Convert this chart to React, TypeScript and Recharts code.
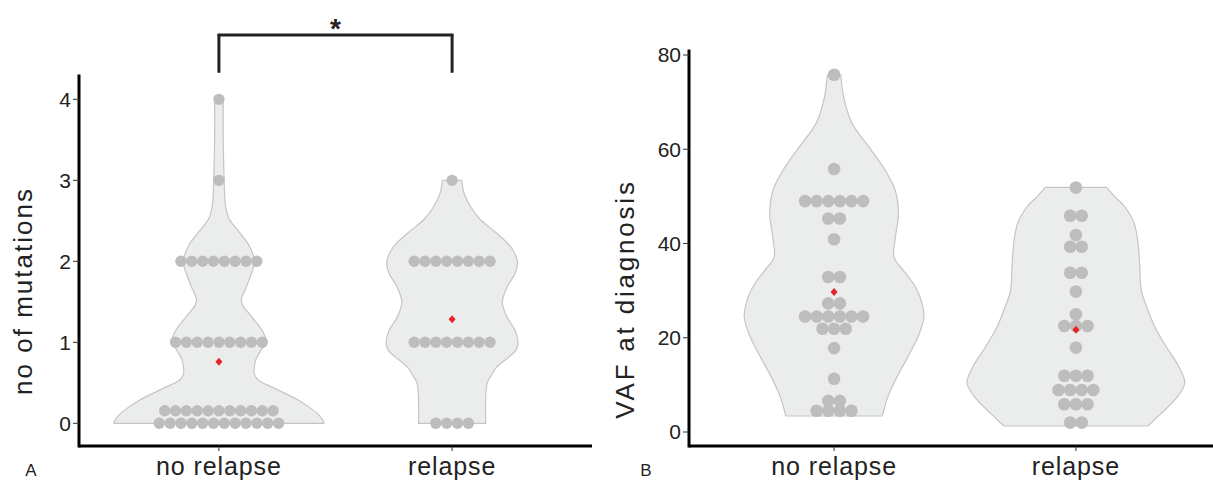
import React from 'react';
import { ComposedChart, Scatter, XAxis, YAxis, ReferenceLine, ReferenceDot } from 'recharts';

// ---------- categories ----------
const GROUPS = ['no relapse', 'relapse'];

// ---------- Panel A: number of mutations ----------
const MUT_TICKS = [0, 1, 2, 3, 4];
// dot rows as drawn: [value, number of dots in the row]
const MUT_ROWS_NO_RELAPSE: [number, number][] = [[0, 12], [0.155, 11], [1, 9], [2, 8], [3, 1], [4, 1]];
const MUT_ROWS_RELAPSE: [number, number][] = [[0, 4], [1, 8], [2, 8], [3, 1]];
// violin density profiles: [value, relative half width]
const MUT_VIOLIN_NO_RELAPSE: [number, number][] = [
  [0, 1.0], [0.04, 0.99], [0.12, 0.94], [0.2, 0.86], [0.29, 0.75], [0.37, 0.63], [0.45, 0.5],
  [0.53, 0.38], [0.6, 0.34], [0.66, 0.335], [0.78, 0.35], [0.9, 0.4], [1.0, 0.45], [1.1, 0.43],
  [1.19, 0.39], [1.35, 0.29], [1.45, 0.23], [1.54, 0.215], [1.68, 0.26], [1.85, 0.31], [2.0, 0.34],
  [2.19, 0.29], [2.35, 0.2], [2.52, 0.1], [2.68, 0.064], [2.84, 0.054], [3.0, 0.05], [3.5, 0.041], [4.0, 0.041],
];
const MUT_VIOLIN_RELAPSE: [number, number][] = [
  [0, 0.32], [0.3, 0.32], [0.49, 0.333], [0.6, 0.378], [0.7, 0.43], [0.82, 0.543], [0.9, 0.607],
  [1.0, 0.629], [1.15, 0.6], [1.32, 0.52], [1.5, 0.479], [1.69, 0.527], [1.85, 0.6], [2.0, 0.622],
  [2.18, 0.559], [2.35, 0.422], [2.51, 0.273], [2.67, 0.178], [2.84, 0.114], [3.0, 0.092],
];
const MUT_MEANS = [0.76, 1.285];

// ---------- Panel B: VAF at diagnosis ----------
const VAF_TICKS = [0, 20, 40, 60, 80];
const VAF_ROWS_NO_RELAPSE: [number, number][] = [
  [75.8, 1], [55.8, 1], [49.0, 6], [45.3, 2], [40.9, 1], [32.9, 2], [27.3, 2], [24.5, 6],
  [21.9, 3], [17.8, 1], [11.3, 1], [6.6, 2], [4.5, 4],
];
const VAF_ROWS_RELAPSE: [number, number][] = [
  [51.9, 1], [45.9, 2], [41.8, 1], [39.3, 2], [33.8, 2], [29.8, 1], [25.0, 1], [22.5, 3],
  [17.9, 1], [11.95, 3], [8.9, 4], [5.9, 3], [2.0, 2],
];
const VAF_VIOLIN_NO_RELAPSE: [number, number][] = [
  [3.4, 0.443], [7.5, 0.495], [11.7, 0.578], [16.0, 0.679], [20.2, 0.771], [24.5, 0.826],
  [28.7, 0.789], [31.6, 0.725], [34.4, 0.633], [37.2, 0.55], [41.5, 0.564], [46.4, 0.592],
  [51.4, 0.56], [55.6, 0.468], [59.9, 0.339], [64.1, 0.202], [66.9, 0.138], [71.2, 0.087], [75.8, 0.061],
];
const VAF_VIOLIN_RELAPSE: [number, number][] = [
  [1.27, 0.663], [4.0, 0.786], [6.8, 0.908], [10.3, 1.0], [13.9, 0.945], [18.1, 0.83],
  [22.3, 0.725], [26.6, 0.65], [30.1, 0.6], [35.1, 0.587], [40.0, 0.572], [44.3, 0.535],
  [47.8, 0.45], [49.9, 0.358], [51.9, 0.281],
];
const VAF_MEANS = [29.7, 21.7];

// ---------- helpers ----------
const FONT = '"Liberation Sans", Arial, Helvetica, sans-serif';
const TEXT = '#222';
const MAX_HALF = 0.45;

function violinData(profile: [number, number][], center: number) {
  const right = profile.map(([v, w]) => ({ x: center + w * MAX_HALF, y: v }));
  const left = profile.slice().reverse().map(([v, w]) => ({ x: center - w * MAX_HALF, y: v }));
  return [...right, ...left];
}

function dotData(rows: [number, number][], center: number, spacing: number) {
  const out: { x: number; y: number }[] = [];
  rows.forEach(([v, n]) => {
    for (let i = 0; i < n; i++) out.push({ x: center + (i - (n - 1) / 2) * spacing, y: v });
  });
  return out;
}

function smooth(pts: { x: number; y: number }[]) {
  let d = '';
  for (let i = 0; i < pts.length - 1; i++) {
    const p0 = pts[i - 1] || pts[i];
    const p1 = pts[i];
    const p2 = pts[i + 1];
    const p3 = pts[i + 2] || p2;
    const c1x = p1.x + (p2.x - p0.x) / 6;
    const c1y = p1.y + (p2.y - p0.y) / 6;
    const c2x = p2.x - (p3.x - p1.x) / 6;
    const c2y = p2.y - (p3.y - p1.y) / 6;
    d += ` C${c1x},${c1y} ${c2x},${c2y} ${p2.x},${p2.y}`;
  }
  return d;
}

const ViolinOutline = (props: any) => {
  const pts = (props.points || []).filter((p: any) => p && p.x != null && p.y != null);
  if (pts.length < 4) return <g />;
  const n = pts.length / 2;
  const right = pts.slice(0, n);
  const left = pts.slice(n);
  const d = `M${right[0].x},${right[0].y}` + smooth(right) + ` L${left[0].x},${left[0].y}` + smooth(left) + ' Z';
  return <path d={d} fill="#ebecec" stroke="#c5c5c5" strokeWidth={1.2} />;
};

const Blank = () => <g />;
const dotShape = (r: number) => (p: any) => <circle cx={p.cx} cy={p.cy} r={r} fill="#bdbdbd" />;
const MeanShape = (p: any) => (
  <polygon
    points={`${p.cx},${p.cy - 4} ${p.cx + 3.5},${p.cy} ${p.cx},${p.cy + 4} ${p.cx - 3.5},${p.cy}`}
    fill="#e8242a"
  />
);

const yTitle = (text: string, bx: number, cy: number, ls: number) => ({
  content: () => (
    <text
      x={bx}
      y={cy}
      transform={`rotate(-90 ${bx} ${cy})`}
      textAnchor="middle"
      fontSize={26}
      fill={TEXT}
      fontFamily={FONT}
      letterSpacing={ls}
    >
      {text}
    </text>
  ),
});

type PanelProps = {
  width: number;
  height: number;
  axisWidth: number;
  top: number;
  rightMargin: number;
  yDomain: [number, number];
  yTicks: number[];
  violins: [number, number][][];
  rows: [number, number][][];
  means: number[];
  spacing: number;
  r: number;
  title: string;
  titleX: number;
  titleY: number;
  titleLS: number;
  children?: React.ReactNode;
};

function Panel(p: PanelProps) {
  return (
    <ComposedChart
      width={p.width}
      height={p.height}
      margin={{ top: p.top, right: p.rightMargin, bottom: 0, left: 0 }}
      style={{ fontFamily: FONT }}
    >
      <XAxis
        type="number"
        dataKey="x"
        domain={[0.4, 2.6]}
        allowDataOverflow
        ticks={[1, 2]}
        tickFormatter={(v: number) => GROUPS[v - 1]}
        height={35}
        axisLine={{ stroke: '#000', strokeWidth: 3 }}
        tickLine={{ stroke: '#333', strokeWidth: 1 }}
        tickSize={5}
        tickMargin={6}
        tick={{ fontSize: 25, fill: TEXT, fontFamily: FONT, letterSpacing: 0.9 }}
        interval={0}
      />
      <YAxis
        type="number"
        dataKey="y"
        domain={p.yDomain}
        allowDataOverflow
        ticks={p.yTicks}
        width={p.axisWidth}
        axisLine={{ stroke: '#000', strokeWidth: 3, strokeLinecap: 'square' }}
        tickLine={{ stroke: '#333', strokeWidth: 1 }}
        tickSize={6}
        tickMargin={2}
        tick={{ fontSize: 21, fill: TEXT, fontFamily: FONT }}
        interval={0}
        label={yTitle(p.title, p.titleX, p.titleY, p.titleLS)}
      />
      {p.violins.map((v, i) => (
        <Scatter
          key={'v' + i}
          data={violinData(v, i + 1)}
          line={ViolinOutline}
          shape={Blank}
          isAnimationActive={false}
        />
      ))}
      {p.rows.map((rows, i) => (
        <Scatter
          key={'d' + i}
          data={dotData(rows, i + 1, p.spacing)}
          shape={dotShape(p.r)}
          isAnimationActive={false}
        />
      ))}
      <Scatter
        data={p.means.map((m, i) => ({ x: i + 1, y: m }))}
        shape={MeanShape}
        isAnimationActive={false}
      />
      {p.children}
    </ComposedChart>
  );
}

// significance bracket (panel A), in data units of panel A
const BRACKET_TOP = 4.794;
const BRACKET_LEG = 4.328;
const STAR_Y = 4.958;

export default function App() {
  return (
    <div
      style={{
        position: 'absolute',
        left: 0,
        top: 0,
        width: 1213,
        height: 481,
        overflow: 'hidden',
        background: '#fff',
        fontFamily: FONT,
      }}
    >
      <div style={{ position: 'absolute', left: 0, top: 0 }}>
        <Panel
          width={600}
          height={481}
          axisWidth={79}
          top={76}
          rightMargin={8}
          yDomain={[-0.28, 4.288]}
          yTicks={MUT_TICKS}
          violins={[MUT_VIOLIN_NO_RELAPSE, MUT_VIOLIN_RELAPSE]}
          rows={[MUT_ROWS_NO_RELAPSE, MUT_ROWS_RELAPSE]}
          means={MUT_MEANS}
          spacing={0.0465}
          r={5.7}
          title="no of mutations"
          titleX={32}
          titleY={291}
          titleLS={2}
        >
          <ReferenceLine
            segment={[{ x: 1, y: BRACKET_TOP }, { x: 2, y: BRACKET_TOP }]}
            ifOverflow="visible"
            stroke="#222"
            strokeWidth={3}
            strokeLinecap="square"
          />
          <ReferenceLine
            segment={[{ x: 1, y: BRACKET_LEG }, { x: 1, y: BRACKET_TOP }]}
            ifOverflow="visible"
            stroke="#222"
            strokeWidth={3}
          />
          <ReferenceLine
            segment={[{ x: 2, y: BRACKET_LEG }, { x: 2, y: BRACKET_TOP }]}
            ifOverflow="visible"
            stroke="#222"
            strokeWidth={3}
          />
          <ReferenceDot
            x={1.5}
            y={STAR_Y}
            r={0}
            ifOverflow="visible"
            shape={(s: any) => (
              <text x={s.cx} y={s.cy + 16} textAnchor="middle" fontSize={28} fontWeight="bold" fill="#222" fontFamily={FONT}>
                *
              </text>
            )}
          />
        </Panel>
      </div>
      <div style={{ position: 'absolute', left: 600, top: 0 }}>
        <Panel
          width={621}
          height={481}
          axisWidth={89}
          top={51}
          rightMargin={0}
          yDomain={[-2.97, 80.85]}
          yTicks={VAF_TICKS}
          violins={[VAF_VIOLIN_NO_RELAPSE, VAF_VIOLIN_RELAPSE]}
          rows={[VAF_ROWS_NO_RELAPSE, VAF_ROWS_RELAPSE]}
          means={VAF_MEANS}
          spacing={0.048}
          r={6.3}
          title="VAF at diagnosis"
          titleX={34}
          titleY={299}
          titleLS={2.8}
        />
      </div>
      <svg width={1213} height={481} style={{ position: 'absolute', left: 0, top: 0, pointerEvents: 'none' }}>
        <text x={31} y={476} textAnchor="middle" fontSize={17} fill={TEXT} fontFamily={FONT}>A</text>
        <text x={646} y={476} textAnchor="middle" fontSize={17} fill={TEXT} fontFamily={FONT}>B</text>
      </svg>
    </div>
  );
}
